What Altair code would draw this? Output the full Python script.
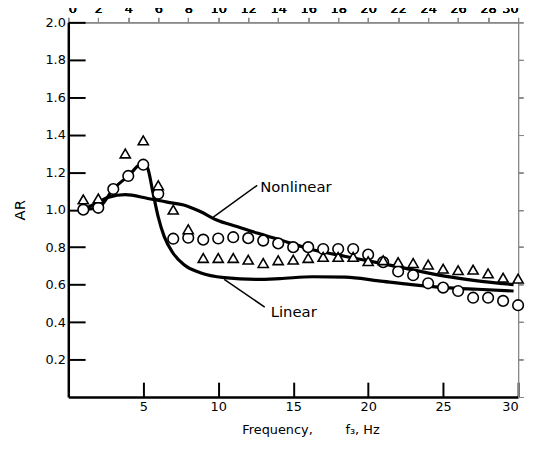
import altair as alt
import pandas as pd

# ---- data ----
circle_f = [1, 2, 3, 4, 5, 6, 7, 8, 9, 10, 11, 12, 13, 14, 15, 16, 17, 18, 19, 20,
            21, 22, 23, 24, 25, 26, 27, 28, 29, 30]
circle_ar = [1.00, 1.01, 1.11, 1.18, 1.24, 1.085, 0.845, 0.85, 0.84, 0.846, 0.853, 0.848,
             0.835, 0.82, 0.80, 0.80, 0.79, 0.79, 0.79, 0.76, 0.72, 0.67, 0.65, 0.607,
             0.584, 0.566, 0.53, 0.53, 0.513, 0.49]

tri_f = [1, 2, 3.8, 5, 6, 7, 8, 9, 10, 11, 12, 13, 14, 15, 16, 17, 18, 19, 20,
         21, 22, 23, 24, 25, 26, 27, 28, 29, 30]
tri_ar = [1.055, 1.06, 1.30, 1.37, 1.13, 1.00, 0.895, 0.742, 0.742, 0.742, 0.733, 0.715,
          0.73, 0.733, 0.742, 0.748, 0.748, 0.748, 0.725, 0.73, 0.72, 0.715, 0.707,
          0.685, 0.677, 0.68, 0.66, 0.637, 0.632]

nonlin_f = [1, 2, 2.7, 3.8, 5.3, 6.6, 7.7, 8.8, 9.9, 11.25, 12.6, 14.1, 16.3, 18.5,
            20.7, 22.9, 25.1, 27.3, 29.7]
nonlin_ar = [1.00, 1.04, 1.067, 1.08, 1.06, 1.04, 1.025, 0.99, 0.945, 0.91, 0.875, 0.84,
             0.786, 0.75, 0.716, 0.68, 0.645, 0.62, 0.60]

lin_f = [1, 2, 3, 4, 5, 5.3, 5.66, 6.0, 6.4, 6.97, 7.7, 8.8, 10.4, 12.6, 14.1, 16.3,
         18.5, 20.7, 22.9, 25.1, 27.3, 29.7]
lin_ar = [1.00, 1.01, 1.11, 1.18, 1.25, 1.22, 1.085, 0.96, 0.856, 0.77, 0.707, 0.663,
          0.637, 0.628, 0.632, 0.642, 0.64, 0.62, 0.60, 0.584, 0.575, 0.566]

label_text = ["Nonlinear", "Linear"]
label_f = [12.8, 13.5]
label_ar = [1.12, 0.455]
leader_f = [9.67, 10.4]
leader_ar = [0.96, 0.628]
leader_f2 = [12.6, 13.1]
leader_ar2 = [1.13, 0.48]

x_ticks = [5, 10, 15, 20, 25, 30]
y_ticks = [0.2, 0.4, 0.6, 0.8, 1.0, 1.2, 1.4, 1.6, 1.8, 2.0]

NB = "\u00a0"
x_title = "Frequency," + NB * 8 + "f\u2083," + NB + "Hz"

W, H = 455, 379
XMAX, YMAX = 30, 2.0

# ---- tables ----
curves = pd.concat([
    pd.DataFrame({"f": nonlin_f, "AR": nonlin_ar, "curve": "Nonlinear"}),
    pd.DataFrame({"f": lin_f, "AR": lin_ar, "curve": "Linear"}),
])
circles = pd.DataFrame({"f": circle_f, "AR": circle_ar})
tris = pd.DataFrame({"f": tri_f, "AR": tri_ar})
labels = pd.DataFrame({"f": label_f, "AR": label_ar, "t": label_text})
leaders = pd.DataFrame({"f": leader_f, "AR": leader_ar, "f2": leader_f2, "AR2": leader_ar2})
xt = pd.DataFrame({"f": x_ticks})
yt = pd.DataFrame({"AR": y_ticks})

xscale = alt.Scale(domain=[0, XMAX], nice=False)
yscale = alt.Scale(domain=[0, YMAX], nice=False)

base_x = alt.X("f:Q", scale=xscale, title=x_title,
               axis=alt.Axis(values=x_ticks, format="d", ticks=False, grid=False,
                             labelPadding=4, titlePadding=10, domainWidth=2.5,
                             domainColor="black", titleX=245))
base_y = alt.Y("AR:Q", scale=yscale, title="AR",
               axis=alt.Axis(values=y_ticks, format=".1f", ticks=False, grid=False,
                             labelPadding=3, titlePadding=11, minExtent=30, maxExtent=30,
                             domainWidth=2.5, domainColor="black", titleFontSize=15))

lines = alt.Chart(curves).mark_line(color="black", strokeWidth=3.2, interpolate="monotone").encode(
    x=base_x, y=base_y, detail="curve:N")

circ = alt.Chart(circles).mark_point(shape="circle", filled=True, fill="white", stroke="black",
                                     strokeWidth=1.6, size=115, opacity=1).encode(
    x=alt.X("f:Q", scale=xscale), y=alt.Y("AR:Q", scale=yscale))

tri = alt.Chart(tris).mark_point(shape="triangle-up", filled=True, fill="white", stroke="black",
                                 strokeWidth=1.6, size=105, opacity=1).encode(
    x=alt.X("f:Q", scale=xscale), y=alt.Y("AR:Q", scale=yscale))

lead = alt.Chart(leaders).mark_rule(color="black", strokeWidth=1.5).encode(
    x=alt.X("f:Q", scale=xscale), y=alt.Y("AR:Q", scale=yscale), x2="f2:Q", y2="AR2:Q")

txt = alt.Chart(labels).mark_text(align="left", baseline="middle", fontSize=15,
                                  font="DejaVu Sans", color="black").encode(
    x=alt.X("f:Q", scale=xscale), y=alt.Y("AR:Q", scale=yscale), text="t:N")

# inward ticks drawn by a second pair of axes (right / top) pulled onto the
# plot's left and bottom edges, with ticks only
tick_layer = alt.Chart(pd.DataFrame({"f": x_ticks[:2], "AR": y_ticks[:2]})).mark_point(
    opacity=0).encode(
    x=alt.X("f:Q", scale=xscale, title=None,
            axis=alt.Axis(orient="top", offset=-H, values=x_ticks, labels=False,
                          domain=False, grid=False, ticks=True, tickSize=15, tickWidth=2,
                          tickColor="black")),
    y=alt.Y("AR:Q", scale=yscale, title=None,
            axis=alt.Axis(orient="right", offset=-W, values=y_ticks, labels=False,
                          domain=False, grid=False, ticks=True, tickSize=17, tickWidth=2,
                          tickColor="black")),
)

chart = alt.layer(lines, lead, circ, tri, txt, tick_layer).resolve_scale(
    x="independent", y="independent"
).properties(
    width=W, height=H,
    autosize=alt.AutoSizeParams(type="none"),
    padding={"left": 61, "top": 12, "right": 8, "bottom": 42},
).configure_view(stroke=None).configure_axis(
    labelFont="DejaVu Sans", labelFontSize=13, labelColor="black",
    titleFont="DejaVu Sans", titleFontSize=13, titleFontWeight="normal", titleColor="black",
)

chart.save("out.html", embed_options={"renderer": "svg", "actions": False})
